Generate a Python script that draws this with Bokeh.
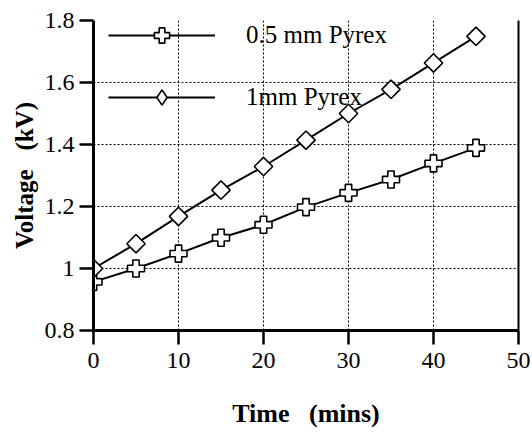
from bokeh.plotting import figure
from bokeh.models import FixedTicker, LinearAxis, Range1d, Legend, LegendItem
from bokeh.embed import file_html
from bokeh.resources import INLINE

# Charging voltage vs time for two Pyrex thicknesses
time_min = [0, 5, 10, 15, 20, 25, 30, 35, 40, 45]
v_half_mm = [0.957, 1.000, 1.048, 1.099, 1.141, 1.198, 1.244, 1.287, 1.339, 1.389]
v_one_mm = [1.000, 1.080, 1.168, 1.253, 1.329, 1.414, 1.500, 1.578, 1.663, 1.749]

x_ticks = [0, 10, 20, 30, 40, 50]
y_ticks = [0.8, 1.0, 1.2, 1.4, 1.6, 1.8]
y_tick_labels = ["0.8", "1", "1.2", "1.4", "1.6", "1.8"]

SERIF = "Liberation Serif"
NB = "\u00a0"

p = figure(width=532, height=432, output_backend="svg", toolbar_location=None,
           x_range=Range1d(0, 50), y_range=Range1d(0.8, 1.8),
           min_border_left=93, min_border_right=14, min_border_top=20,
           min_border_bottom=102)
p.outline_line_color = None
p.background_fill_color = "white"
p.border_fill_color = "white"

# axes
for ax, ticks in ((p.xaxis[0], x_ticks), (p.yaxis[0], y_ticks)):
    ax.ticker = FixedTicker(ticks=ticks)
    ax.axis_line_width = 3
    ax.axis_line_color = "black"
    ax.major_tick_line_width = 2.5
    ax.major_tick_out = 14
    ax.major_tick_in = 0
    ax.minor_tick_line_color = None
    ax.major_label_text_font = SERIF
    ax.major_label_text_font_size = "24px"
    ax.major_label_text_color = "black"
    ax.major_label_text_line_height = 0.8
    ax.axis_label_text_font = SERIF
    ax.axis_label_text_font_style = "bold"
    ax.axis_label_text_color = "black"
    ax.axis_label_text_line_height = 0.8

p.yaxis[0].major_label_overrides = {t: s for t, s in zip(y_ticks, y_tick_labels)}
p.yaxis[0].major_label_standoff = 5
p.yaxis[0].axis_label = f"Voltage{NB*3}(kV)"
p.yaxis[0].axis_label_text_font_size = "25px"
p.yaxis[0].axis_label_standoff = 4
p.xaxis[0].major_label_standoff = 8
p.xaxis[0].axis_label = f"Time{NB*3}(mins)"
p.xaxis[0].axis_label_text_font_size = "26px"
p.xaxis[0].axis_label_standoff = 28

# plain right edge of the frame
right = LinearAxis(ticker=FixedTicker(ticks=[]), axis_line_width=2,
                   major_label_text_font_size="0px", minor_tick_line_color=None)
p.add_layout(right, "right")

# dotted grid
p.xgrid.ticker = FixedTicker(ticks=x_ticks)
p.ygrid.ticker = FixedTicker(ticks=y_ticks)
for g in (p.xgrid, p.ygrid):
    g.grid_line_color = "black"
    g.grid_line_width = 1
    g.grid_line_dash = "2 2"

# series
l1 = p.line(time_min, v_half_mm, line_color="black", line_width=2)
m1 = p.scatter(time_min, v_half_mm, marker="plus", size=17, fill_color="white",
               line_color="black", line_width=1.6)
l2 = p.line(time_min, v_one_mm, line_color="black", line_width=2)
# legend key for the 1 mm series; sits fully inside the first rotated-square marker
k2 = p.scatter(time_min[:1], v_one_mm[:1], marker="diamond", size=17,
               fill_color="white", line_color="black", line_width=1.6)
m2 = p.scatter(time_min, v_one_mm, marker="square", angle=0.7853981634, size=13,
               fill_color="white", line_color="black", line_width=1.6)

legend = Legend(items=[LegendItem(label="0.5 mm Pyrex", renderers=[l1, m1]),
                       LegendItem(label="1mm Pyrex", renderers=[l2, k2])],
                location=(15, 214), padding=0, margin=0, spacing=24,
                glyph_width=107, glyph_height=38, label_standoff=31,
                label_text_font=SERIF, label_text_font_size="25px",
                label_text_color="black", border_line_color=None,
                background_fill_alpha=0)
p.add_layout(legend, "center")

open("out.html", "w").write(file_html(p, INLINE))
